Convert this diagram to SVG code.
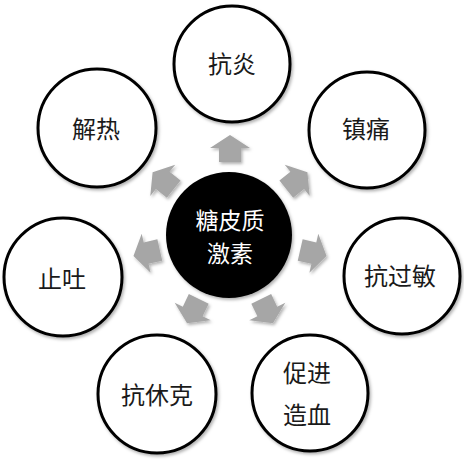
<svg xmlns="http://www.w3.org/2000/svg" width="464" height="461" viewBox="0 0 464 461">
<defs>
<style>
.node{fill:#fff;stroke:#000;stroke-width:3}
.lbl{font-family:"Noto Sans CJK SC","Noto Sans CJK JP",sans-serif;font-size:24px;fill:#1a1a1a;text-anchor:middle;dominant-baseline:central}
.ctr{font-size:23px;fill:#fff}
.arrow{fill:#a6a6a6}
</style>
<filter id="sh" x="-20%" y="-20%" width="140%" height="140%">
<feDropShadow dx="1.5" dy="2" stdDeviation="1.8" flood-color="#000" flood-opacity="0.3"/>
</filter>
<path id="arr" d="M72,-11 L86,-11 L86,-20 L99,0 L86,20 L86,11 L72,11 Z"/>
</defs>
<rect width="464" height="461" fill="#fff"/>
<g id="connectors" filter="url(#sh)">
<use href="#arr" class="arrow" transform="translate(230 234) rotate(-90)"/>
<use href="#arr" class="arrow" transform="translate(230 234) rotate(-38.57)"/>
<use href="#arr" class="arrow" transform="translate(230 234) rotate(12.86)"/>
<use href="#arr" class="arrow" transform="translate(230 234) rotate(64.29)"/>
<use href="#arr" class="arrow" transform="translate(230 234) rotate(115.71)"/>
<use href="#arr" class="arrow" transform="translate(230 234) rotate(167.14)"/>
<use href="#arr" class="arrow" transform="translate(230 234) rotate(218.57)"/>
</g>
<g id="center">
<circle cx="229" cy="235" r="63" fill="#000" filter="url(#sh)"/>
<text class="lbl ctr" x="230" y="219">糖皮质</text>
<text class="lbl ctr" x="230" y="252">激素</text>
</g>
<g id="n-kangyan">
<circle class="node" cx="232" cy="64" r="58" filter="url(#sh)"/>
<text class="lbl" x="232" y="62">抗炎</text>
</g>
<g id="n-zhentong">
<circle class="node" cx="367" cy="130" r="58" filter="url(#sh)"/>
<text class="lbl" x="366" y="127">镇痛</text>
</g>
<g id="n-kangguomin">
<circle class="node" cx="402" cy="276" r="58" filter="url(#sh)"/>
<text class="lbl" x="400" y="274">抗过敏</text>
</g>
<g id="n-cujinzaoxue">
<circle class="node" cx="310" cy="393" r="58" filter="url(#sh)"/>
<text class="lbl" x="307" y="371">促进</text>
<text class="lbl" x="307" y="413">造血</text>
</g>
<g id="n-kangxiuke">
<circle class="node" cx="157" cy="394" r="59" filter="url(#sh)"/>
<text class="lbl" x="157" y="393">抗休克</text>
</g>
<g id="n-zhitu">
<circle class="node" cx="63" cy="277" r="59" filter="url(#sh)"/>
<text class="lbl" x="62" y="277">止吐</text>
</g>
<g id="n-jiere">
<circle class="node" cx="97" cy="128" r="59" filter="url(#sh)"/>
<text class="lbl" x="96" y="127">解热</text>
</g>
</svg>
